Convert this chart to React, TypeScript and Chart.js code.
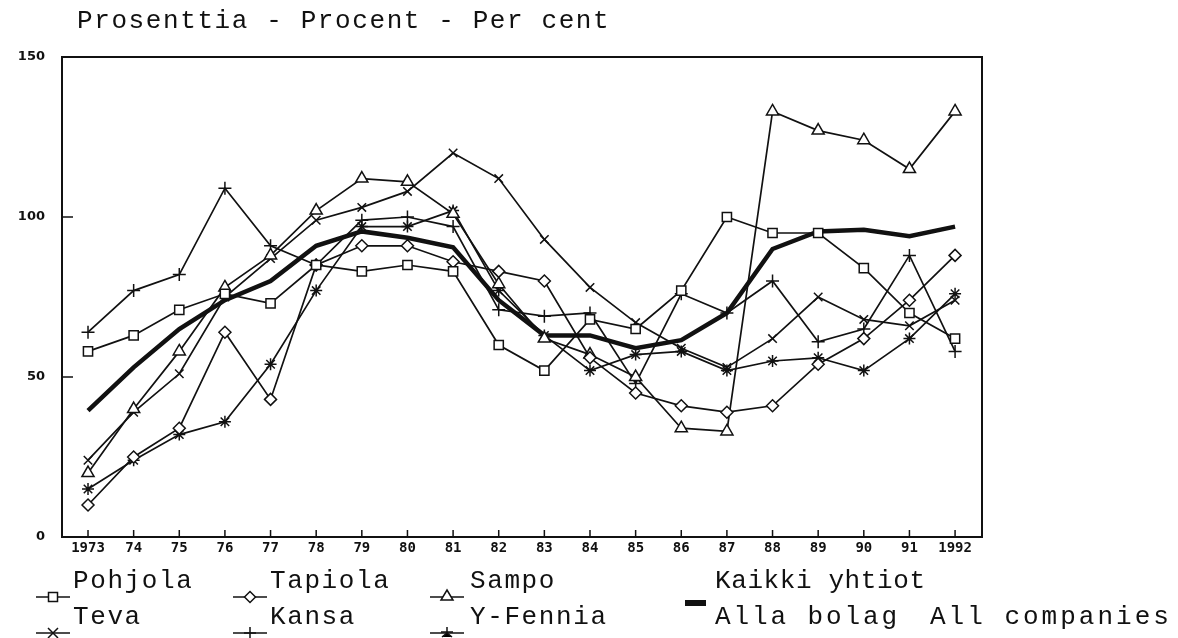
import React, { useEffect, useRef } from "react";
import { Chart, registerables } from "chart.js";

Chart.register(...registerables);

// ---------- data ----------
const years = [1973, 1974, 1975, 1976, 1977, 1978, 1979, 1980, 1981, 1982, 1983, 1984, 1985, 1986, 1987, 1988, 1989, 1990, 1991, 1992];
const xTickLabels = ["1973", "74", "75", "76", "77", "78", "79", "80", "81", "82", "83", "84", "85", "86", "87", "88", "89", "90", "91", "1992"];
const yTickValues = [0, 50, 100, 150];

const pohjola = [58, 63, 71, 76, 73, 85, 83, 85, 83, 60, 52, 68, 65, 77, 100, 95, 95, 84, 70, 62];
const tapiola = [10, 25, 34, 64, 43, 85, 91, 91, 86, 83, 80, 56, 45, 41, 39, 41, 54, 62, 74, 88];
const sampo = [20, 40, 58, 78, 88, 102, 112, 111, 101, 79, 62, 57, 50, 34, 33, 133, 127, 124, 115, 133];
const teva = [24, 39, 51, 75, 87, 99, 103, 108, 120, 112, 93, 78, 67, 59, 53, 62, 75, 68, 66, 74];
const kansa = [64, 77, 82, 109, 91, 85, 99, 100, 97, 71, 69, 70, 48, 76, 70, 80, 61, 65, 88, 58];
const yFennia = [15, 24, 32, 36, 54, 77, 97, 97, 102, 77, 63, 52, 57, 58, 52, 55, 56, 52, 62, 76];
const allCompanies = [39.5, 53, 65, 74, 80, 91, 95.5, 93.5, 90.5, 74, 63, 63, 59, 61.5, 70, 90, 95.5, 96, 94, 97];

const seriesNames = ["Pohjola", "Tapiola", "Sampo", "Teva", "Kansa", "Y-Fennia", "Kaikki yhtiot"];

const toPoints = (vals: number[]) => years.map((yr, i) => ({ x: yr, y: vals[i] }));

const INK = "#111";

const framePlugin = {
  id: "frameTicks",
  afterDraw(chart: any) {
    const { ctx, chartArea, scales } = chart;
    ctx.save();
    ctx.strokeStyle = INK;
    ctx.lineWidth = 2;
    ctx.strokeRect(chartArea.left, chartArea.top, chartArea.right - chartArea.left, chartArea.bottom - chartArea.top);
    ctx.lineWidth = 1.5;
    ctx.beginPath();
    years.forEach((yr) => {
      const px = scales.x.getPixelForValue(yr);
      ctx.moveTo(px, chartArea.bottom);
      ctx.lineTo(px, chartArea.bottom - 7);
    });
    [50, 100].forEach((v) => {
      const py = scales.y.getPixelForValue(v);
      ctx.moveTo(chartArea.left, py);
      ctx.lineTo(chartArea.left + 11, py);
    });
    ctx.stroke();
    ctx.restore();
  },
};

const mono = '"Liberation Mono", "DejaVu Sans Mono", monospace';

const textStyle = (left: number, top: number, ls = 1.6): React.CSSProperties => ({
  position: "absolute",
  left,
  top,
  fontFamily: mono,
  fontSize: 26,
  lineHeight: "26px",
  letterSpacing: ls,
  color: INK,
  whiteSpace: "pre",
});

function LegendMarker({ kind, cx, cy }: { kind: string; cx: number; cy: number }) {
  const s = 4.5;
  let shape: React.ReactNode = null;
  if (kind === "rect") shape = <rect x={cx - s} y={cy - s} width={2 * s} height={2 * s} fill="#fff" stroke={INK} strokeWidth={1.5} />;
  if (kind === "rectRot") shape = <polygon points={`${cx},${cy - s - 1} ${cx + s + 1},${cy} ${cx},${cy + s + 1} ${cx - s - 1},${cy}`} fill="#fff" stroke={INK} strokeWidth={1.5} />;
  if (kind === "triangle") shape = <polygon points={`${cx},${cy - 7} ${cx + 6},${cy + 3} ${cx - 6},${cy + 3}`} fill="#fff" stroke={INK} strokeWidth={1.5} />;
  if (kind === "crossRot") shape = <path d={`M${cx - 5},${cy - 5}L${cx + 5},${cy + 5}M${cx - 5},${cy + 5}L${cx + 5},${cy - 5}`} stroke={INK} strokeWidth={1.5} />;
  if (kind === "cross") shape = <path d={`M${cx},${cy - 6}L${cx},${cy + 6}M${cx - 6},${cy}L${cx + 6},${cy}`} stroke={INK} strokeWidth={1.5} />;
  if (kind === "star") shape = <path d={`M${cx},${cy - 6}L${cx},${cy}M${cx - 5},${cy + 4}L${cx},${cy}L${cx + 5},${cy + 4}M${cx - 6},${cy - 1}L${cx + 6},${cy - 1}`} stroke={INK} strokeWidth={1.5} />;
  return (
    <g>
      <line x1={cx - 17} y1={cy} x2={cx + 17} y2={cy} stroke={INK} strokeWidth={1.5} />
      {shape}
    </g>
  );
}

export default function App() {
  const canvasRef = useRef<HTMLCanvasElement | null>(null);

  useEffect(() => {
    if (!canvasRef.current) return;
    const common = {
      borderColor: INK,
      borderWidth: 1.7,
      pointBorderColor: INK,
      pointBackgroundColor: "#fff",
      pointBorderWidth: 1.5,
      tension: 0,
      fill: false,
    };
    const chart = new Chart(canvasRef.current, {
      type: "line",
      data: {
        datasets: [
          { ...common, label: seriesNames[0], data: toPoints(pohjola), pointStyle: "rect", pointRadius: 6.5 },
          { ...common, label: seriesNames[1], data: toPoints(tapiola), pointStyle: "rectRot", pointRadius: 6 },
          { ...common, label: seriesNames[2], data: toPoints(sampo), pointStyle: "triangle", pointRadius: 7 },
          { ...common, label: seriesNames[3], data: toPoints(teva), pointStyle: "crossRot", pointRadius: 6 },
          { ...common, label: seriesNames[4], data: toPoints(kansa), pointStyle: "cross", pointRadius: 6.5 },
          { ...common, label: seriesNames[5], data: toPoints(yFennia), pointStyle: "star", pointRadius: 6 },
          { ...common, label: seriesNames[6], data: toPoints(allCompanies), borderWidth: 4.5, pointRadius: 0 },
        ],
      },
      options: {
        animation: false,
        responsive: false,
        maintainAspectRatio: false,
        events: [],
        layout: { padding: { top: 57, right: 196, left: 0, bottom: 0 } },
        plugins: { legend: { display: false }, title: { display: false }, tooltip: { enabled: false } },
        scales: {
          x: {
            type: "linear",
            min: 1972.43,
            max: 1992.59,
            border: { display: false },
            grid: { display: false, drawTicks: false },
            afterBuildTicks: (scale: any) => {
              scale.ticks = years.map((v) => ({ value: v }));
            },
            afterFit: (scale: any) => {
              scale.height = 101;
            },
            ticks: {
              autoSkip: false,
              maxRotation: 0,
              padding: 3,
              color: INK,
              font: { family: '"DejaVu Sans Mono", monospace', size: 14, weight: "bold" },
              callback: (v: any) => {
                const i = years.indexOf(Number(v));
                return i >= 0 ? xTickLabels[i] : "";
              },
            },
          },
          y: {
            type: "linear",
            min: 0,
            max: 150,
            border: { display: false },
            grid: { display: false, drawTicks: false },
            afterBuildTicks: (scale: any) => {
              scale.ticks = yTickValues.map((v) => ({ value: v }));
            },
            afterFit: (scale: any) => {
              scale.width = 62;
            },
            ticks: {
              padding: 17,
              color: INK,
              font: { family: '"DejaVu Sans", sans-serif', size: 13, weight: "bold" },
              callback: (v: any) => String(v),
            },
          },
        },
      },
      plugins: [framePlugin],
    } as any);
    return () => chart.destroy();
  }, []);

  return (
    <div style={{ position: "absolute", left: 0, top: 0, width: 1178, height: 638, background: "#fff", overflow: "hidden" }}>
      <canvas ref={canvasRef} width={1178} height={638} style={{ display: "block", position: "absolute", left: 0, top: 0 }} />
      <div style={textStyle(77, 8)}>Prosenttia - Procent - Per cent</div>
      <svg width={1178} height={638} style={{ position: "absolute", left: 0, top: 0 }}>
        <LegendMarker kind="rect" cx={53} cy={597} />
        <LegendMarker kind="rectRot" cx={250} cy={597} />
        <LegendMarker kind="triangle" cx={447} cy={597} />
        <LegendMarker kind="crossRot" cx={53} cy={633} />
        <LegendMarker kind="cross" cx={250} cy={633} />
        <LegendMarker kind="star" cx={447} cy={633} />
        <rect x={685} y={600} width={21} height={6} fill={INK} />
      </svg>
      <div style={textStyle(73, 568)}>{seriesNames[0]}</div>
      <div style={textStyle(270, 568)}>{seriesNames[1]}</div>
      <div style={textStyle(470, 568)}>{seriesNames[2]}</div>
      <div style={textStyle(715, 568, 0.6)}>{seriesNames[6]}</div>
      <div style={textStyle(73, 604)}>{seriesNames[3]}</div>
      <div style={textStyle(270, 604)}>{seriesNames[4]}</div>
      <div style={textStyle(470, 604)}>{seriesNames[5]}</div>
      <div style={textStyle(715, 604, 2.9)}>Alla bolag</div>
      <div style={textStyle(930, 604, 3)}>All companies</div>
    </div>
  );
}
